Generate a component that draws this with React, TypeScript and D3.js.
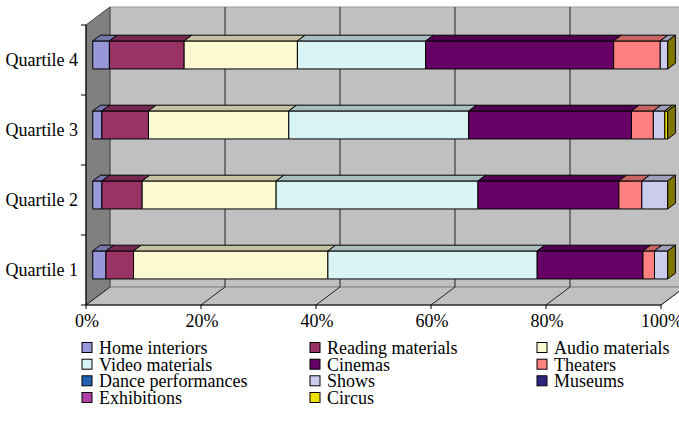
import React from 'react';
import * as d3 from 'd3';

// Categories (bottom to top) and spending-share series, in percent.
const categories = ['Quartile 1', 'Quartile 2', 'Quartile 3', 'Quartile 4'];

const seriesNames = [
  'Home interiors',
  'Reading materials',
  'Audio materials',
  'Video materials',
  'Cinemas',
  'Theaters',
  'Dance performances',
  'Shows',
  'Museums',
  'Exhibitions',
  'Circus',
];

const seriesColors = [
  '#9797DA',
  '#993366',
  '#FBF9D0',
  '#D9F4F4',
  '#660066',
  '#FF8080',
  '#2463B3',
  '#CCCCEE',
  '#2E2480',
  '#B040A8',
  '#F0E000',
];

const homeInteriors = [2.3, 1.6, 1.6, 2.9];
const readingMaterials = [4.8, 7.0, 8.1, 13.0];
const audioMaterials = [33.8, 23.3, 24.4, 19.7];
const videoMaterials = [36.4, 35.1, 31.3, 22.3];
const cinemas = [18.4, 24.5, 28.3, 32.7];
const theaters = [2.0, 4.0, 3.8, 8.1];
const dancePerformances = [0, 0, 0, 0];
const shows = [2.3, 4.5, 2.0, 1.3];
const museums = [0, 0, 0, 0];
const exhibitions = [0, 0, 0, 0];
const circus = [0, 0, 0.5, 0];

const seriesValues = [
  homeInteriors,
  readingMaterials,
  audioMaterials,
  videoMaterials,
  cinemas,
  theaters,
  dancePerformances,
  shows,
  museums,
  exhibitions,
  circus,
];

const valueTicks = [0, 20, 40, 60, 80, 100];

const W = 679;
const H = 431;
const FONT = 'Liberation Serif';
const FONT_SIZE = 18;

// Plot frame (front plane) and oblique depth vector
const X0 = 86;
const X1 = 661;
const Y_TOP = 25;
const Y_BOT = 305;
const DX = 24;
const DY = -18;
const Z_FRONT = 0.28;
const Z_BACK = 0.6;

function shade(c: string, k: number): string {
  const rgb = d3.rgb(c);
  return d3.rgb(rgb.r * k, rgb.g * k, rgb.b * k).formatHex();
}

export default function App() {
  const x = d3.scaleLinear().domain([0, 100]).range([X0, X1]);
  const y = d3
    .scaleBand<string>()
    .domain([...categories].reverse())
    .range([Y_TOP, Y_BOT])
    .paddingInner(0.6)
    .paddingOuter(0.3);

  const P = (v: number, py: number, z: number) => [x(v) + DX * z, py + DY * z];
  const poly = (pts: number[][]) => pts.map((p) => p.join(',')).join(' ');

  const table = categories.map((c, i) => {
    const row: Record<string, any> = { category: c };
    seriesNames.forEach((s, j) => {
      row[s] = seriesValues[j][i];
    });
    return row;
  });
  const stacked = d3.stack<Record<string, any>>().keys(seriesNames)(table);

  const bars: React.ReactNode[] = [];
  categories.forEach((cat, ci) => {
    const y0 = y(cat)!;
    const y1 = y0 + y.bandwidth();
    let total = 0;
    stacked.forEach((layer, si) => {
      const [a, b] = layer[ci];
      total = Math.max(total, b);
      if (b - a <= 0) return;
      const col = seriesColors[si];
      bars.push(
        <g key={`${cat}-${si}`}>
          <polygon
            points={poly([P(a, y0, Z_FRONT), P(b, y0, Z_FRONT), P(b, y1, Z_FRONT), P(a, y1, Z_FRONT)])}
            fill={col}
            stroke="#000"
            strokeWidth={1}
            strokeLinejoin="round"
          />
          <polygon
            points={poly([P(a, y0, Z_FRONT), P(b, y0, Z_FRONT), P(b, y0, Z_BACK), P(a, y0, Z_BACK)])}
            fill={shade(col, 0.78)}
            stroke="#000"
            strokeWidth={1}
            strokeLinejoin="round"
          />
        </g>
      );
    });
    // right-hand end of the stack, shaded in the last series' colour
    const endCol = seriesColors[seriesColors.length - 1];
    bars.push(
      <polygon
        key={`${cat}-end`}
        points={poly([P(total, y0, Z_FRONT), P(total, y0, Z_BACK), P(total, y1, Z_BACK), P(total, y1, Z_FRONT)])}
        fill={shade(endCol, 0.53)}
        stroke="#000"
        strokeWidth={1}
        strokeLinejoin="round"
      />
    );
  });

  const legendCols = [82, 310, 537];
  const legendRows = [348, 364.7, 381.3, 398];

  return (
    <svg width={W} height={H} style={{ position: 'absolute', left: 0, top: 0, background: '#fff' }}>
      {/* back wall */}
      <polygon
        points={poly([P(0, Y_TOP, 1), P(100, Y_TOP, 1), P(100, Y_BOT, 1), P(0, Y_BOT, 1)])}
        fill="#C0C0C0"
        stroke="#9a9a9a"
        strokeWidth={1}
      />
      {/* left wall */}
      <polygon
        points={poly([P(0, Y_TOP, 0), P(0, Y_TOP, 1), P(0, Y_BOT, 1), P(0, Y_BOT, 0)])}
        fill="#808080"
        stroke="#404040"
        strokeWidth={1}
      />
      {/* floor */}
      <polygon
        points={poly([P(0, Y_BOT, 0), P(100, Y_BOT, 0), P(100, Y_BOT, 1), P(0, Y_BOT, 1)])}
        fill="#C0C0C0"
        stroke="#808080"
        strokeWidth={1}
      />
      {/* gridlines on back wall and floor */}
      {valueTicks.map((t) => (
        <g key={`grid-${t}`}>
          {t > 0 && (
            <line
              x1={P(t, Y_TOP, 1)[0]}
              y1={P(t, Y_TOP, 1)[1]}
              x2={P(t, Y_BOT, 1)[0]}
              y2={P(t, Y_BOT, 1)[1]}
              stroke="#222"
              strokeWidth={1}
            />
          )}
          <line
            x1={P(t, Y_BOT, 0)[0]}
            y1={P(t, Y_BOT, 0)[1]}
            x2={P(t, Y_BOT, 1)[0]}
            y2={P(t, Y_BOT, 1)[1]}
            stroke="#222"
            strokeWidth={1}
          />
        </g>
      ))}

      {/* category axis */}
      <line x1={X0} y1={Y_TOP} x2={X0} y2={Y_BOT} stroke="#000" strokeWidth={1} />
      {d3.range(categories.length + 1).map((i) => {
        const yy = Y_TOP + i * y.step();
        return <line key={`ct-${i}`} x1={X0 - 5} y1={yy} x2={X0} y2={yy} stroke="#000" strokeWidth={1} />;
      })}
      {categories.map((c) => (
        <text
          key={`cl-${c}`}
          x={X0 - 8}
          y={y(c)! + y.bandwidth() / 2 + 6}
          textAnchor="end"
          fontFamily={FONT}
          fontSize={FONT_SIZE}
          fill="#000"
        >
          {c}
        </text>
      ))}

      {/* value axis */}
      <line x1={X0} y1={Y_BOT} x2={X1} y2={Y_BOT} stroke="#000" strokeWidth={1} />
      {valueTicks.map((t) => (
        <g key={`vt-${t}`}>
          <line x1={x(t)} y1={Y_BOT} x2={x(t)} y2={Y_BOT + 4} stroke="#000" strokeWidth={1} />
          <text
            x={x(t) + 1}
            y={Y_BOT + 22}
            textAnchor="middle"
            fontFamily={FONT}
            fontSize={FONT_SIZE}
            fill="#000"
          >
            {`${t}%`}
          </text>
        </g>
      ))}

      {/* bars */}
      {bars}

      {/* legend */}
      {seriesNames.map((s, i) => {
        const cx = legendCols[i % 3];
        const cy = legendRows[Math.floor(i / 3)];
        return (
          <g key={`lg-${s}`}>
            <rect x={cx} y={cy - 5.5} width={10} height={10} fill={seriesColors[i]} stroke="#000" strokeWidth={1} />
            <text x={cx + 17} y={cy + 6} fontFamily={FONT} fontSize={FONT_SIZE} fill="#000">
              {s}
            </text>
          </g>
        );
      })}
    </svg>
  );
}
